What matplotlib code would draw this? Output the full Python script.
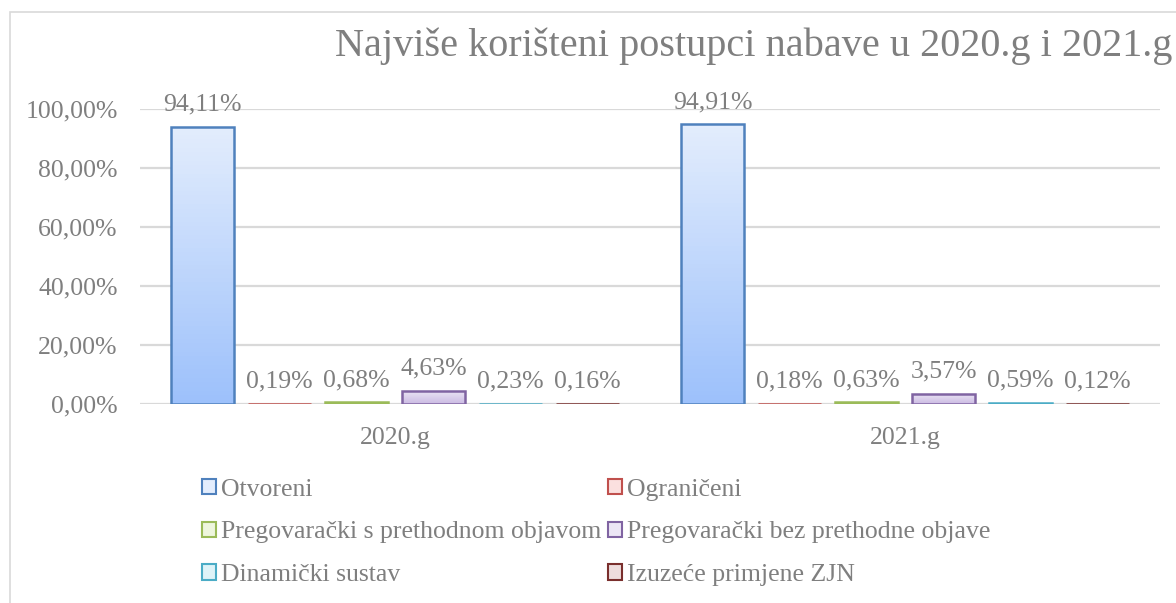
import matplotlib
matplotlib.use("Agg")
import numpy as np
import matplotlib.pyplot as plt
from matplotlib.patches import Rectangle, Patch
from matplotlib.colors import LinearSegmentedColormap

plt.rcParams["font.family"] = ["Liberation Serif", "DejaVu Serif"]

W, H = 1176, 603
GREY = "#7f7f7f"; GRID = "#d9d9d9"

years = ["2020.g", "2021.g"]
series = ["Otvoreni", "Ograničeni", "Pregovarački s prethodnom objavom",
          "Pregovarački bez prethodne objave", "Dinamički sustav", "Izuzeće primjene ZJN"]
otvoreni = [0.9411, 0.9491]
ograniceni = [0.0019, 0.0018]
preg_s = [0.0068, 0.0063]
preg_bez = [0.0463, 0.0357]
dinamicki = [0.0023, 0.0059]
izuzece = [0.0016, 0.0012]
values = [otvoreni, ograniceni, preg_s, preg_bez, dinamicki, izuzece]

# edge colour, gradient top, gradient bottom
styles = [("#4f81bd", "#e3edfd", "#9dc1fb"),
          ("#c0504d", "#fbe0df", "#f4a9a7"),
          ("#9bbb59", "#eef6dd", "#c9e29a"),
          ("#8064a2", "#ece6f5", "#cbbbe3"),
          ("#4bacc6", "#def3f8", "#a3dceb"),
          ("#7a2f2d", "#eedddd", "#c9a6a5")]

fig = plt.figure(figsize=(W/100, H/100), dpi=100)
fig.patch.set_facecolor("white")
fig.add_artist(Rectangle((10/W, -0.1), 1.2, 1-12/H+0.1, transform=fig.transFigure,
                         fill=False, ec=GRID, lw=1.2))

ax = fig.add_axes([140/W, 1-404.3/H, 1020/W, 295/H])
ax.set_xlim(-0.5, 1.5); ax.set_ylim(0, 1.0)
for s in ax.spines.values():
    s.set_visible(False)
ax.set_yticks(np.arange(0, 1.01, 0.2))
ax.set_yticklabels([f"{v*100:.2f}%".replace(".", ",") for v in np.arange(0, 1.01, 0.2)])
ax.grid(axis="y", color=GRID, lw=1.6, zorder=0)
ax.set_axisbelow(True)
ax.tick_params(length=0, labelsize=18.5, labelcolor=GREY, pad=16)
ax.tick_params(axis="x", pad=16)
ax.set_xticks(range(len(years)))
ax.set_xticklabels(years)

x = np.arange(len(years))
step, bw = 77/510, 63.3/510
grad = np.linspace(0, 1, 64).reshape(-1, 1)
for i, (vals, (ec, c1, c2)) in enumerate(zip(values, styles)):
    pos = x + (i - 2.5) * step
    bars = ax.bar(pos, vals, width=bw, fc="none", ec=ec, lw=1.8, zorder=3)
    cmap = LinearSegmentedColormap.from_list(f"g{i}", [c1, c2])
    for b, v in zip(bars, vals):
        im = ax.imshow(grad, extent=(b.get_x(), b.get_x()+bw, 0, v), aspect="auto",
                       cmap=cmap, origin="upper", zorder=2)
        im.set_clip_path(b)
        ax.annotate(f"{v*100:.2f}%".replace(".", ","), (b.get_x()+bw/2, v),
                    xytext=(0, 11), textcoords="offset pixels", ha="center", va="bottom",
                    fontsize=18.5, color=GREY, zorder=5)
ax.set_xlim(-0.5, 1.5); ax.set_ylim(0, 1.0)

fig.text(335/W, 1-46/H, "Najviše korišteni postupci nabave u 2020.g i 2021.g",
         ha="left", va="center", fontsize=29, color=GREY)

handles = [Patch(fc=s[1], ec=s[0], lw=1.5) for s in styles]
order = [0, 2, 4, 1, 3, 5]
leg = fig.legend([handles[k] for k in order], [series[k] for k in order], ncol=2,
                 loc="upper left", bbox_to_anchor=(189/W, 1-466/H), frameon=False,
                 fontsize=18.5, handlelength=0.55, handleheight=0.55, handletextpad=0.2,
                 columnspacing=0.25, labelspacing=0.8, borderpad=0)
for t in leg.get_texts():
    t.set_color(GREY)

fig.savefig("out.png", dpi=100)
